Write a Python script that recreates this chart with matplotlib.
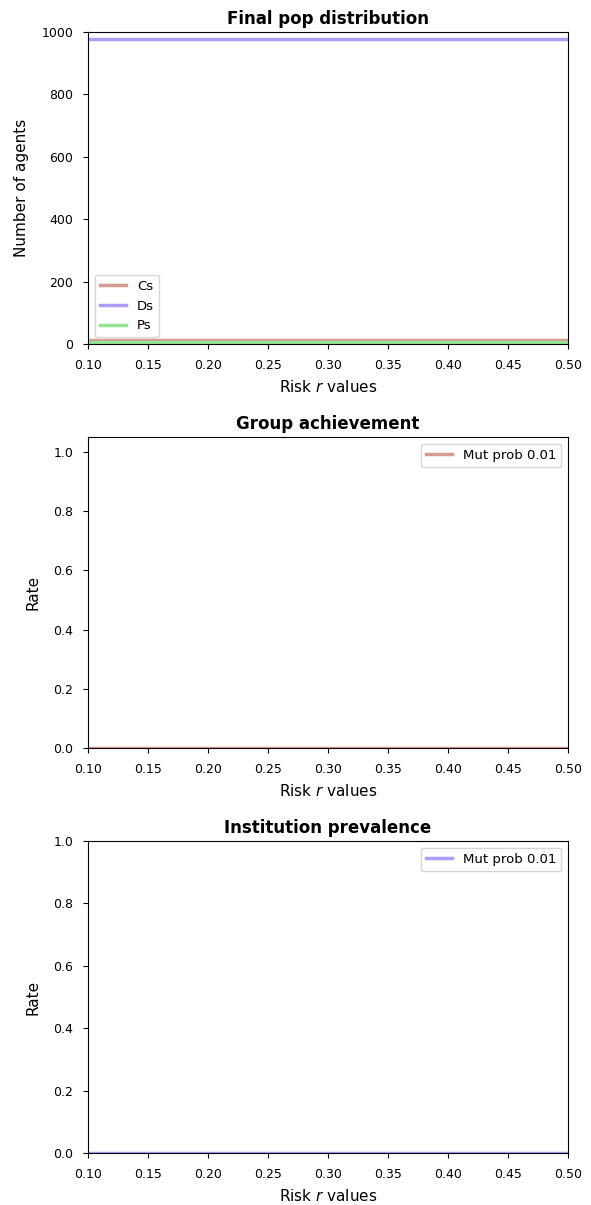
import matplotlib
matplotlib.use('Agg')
import matplotlib.pyplot as plt
import numpy as np

risk_values = [0.1, 0.2, 0.3, 0.4, 0.5]
cs_final = [14, 14, 14, 14, 14]
ds_final = [978, 978, 978, 978, 978]
ps_final = [8, 8, 8, 8, 8]
group_achievement = [0.0, 0.0, 0.0, 0.0, 0.0]
institution_prevalence = [0.0, 0.0, 0.0, 0.0, 0.0]

c_col = '#d6998f'
d_col = '#b09cfb'
p_col = '#96e396'

plt.rc('xtick', labelsize=9)
plt.rc('ytick', labelsize=9)
plt.rc('xtick.major', pad=7)
plt.rc('ytick.major', pad=7)
plt.rc('axes', labelsize=11)

fig = plt.figure(figsize=(5.91, 12.05), dpi=100)
W, H = 591., 1205.

def make_ax(top, bottom):
    return fig.add_axes([88 / W, 1 - bottom / H, (568 - 88) / W, (bottom - top) / H])

xt = np.arange(0.10, 0.501, 0.05)

ax1 = make_ax(32, 344)
ax1.plot(risk_values, cs_final, color=c_col, lw=2.5, label='Cs')
ax1.plot(risk_values, ds_final, color=d_col, lw=2.5, label='Ds')
ax1.plot(risk_values, ps_final, color=p_col, lw=2.5, label='Ps')
ax1.set_xlim(0.1, 0.5)
ax1.set_ylim(0, 1000)
ax1.set_xticks(xt)
ax1.set_title('Final pop distribution', fontweight='bold', fontsize=12)
ax1.set_ylabel('Number of agents', labelpad=9)
ax1.set_xlabel('Risk $r$ values', labelpad=5)
ax1.legend(loc='lower left', fontsize=9.5)

ax2 = make_ax(437, 748)
ax2.plot(risk_values, group_achievement, color=c_col, lw=2.5, label='Mut prob 0.01')
ax2.set_xlim(0.1, 0.5)
ax2.set_ylim(0, 1.05)
ax2.set_xticks(xt)
ax2.set_title('Group achievement', fontweight='bold', fontsize=12)
ax2.set_ylabel('Rate', labelpad=9)
ax2.set_xlabel('Risk $r$ values', labelpad=5)
ax2.legend(loc='upper right', fontsize=9.5)

ax3 = make_ax(841, 1153)
ax3.plot(risk_values, institution_prevalence, color=d_col, lw=2.5, label='Mut prob 0.01')
ax3.set_xlim(0.1, 0.5)
ax3.set_ylim(0, 1.0)
ax3.set_xticks(xt)
ax3.set_title('Institution prevalence', fontweight='bold', fontsize=12)
ax3.set_ylabel('Rate', labelpad=9)
ax3.set_xlabel('Risk $r$ values', labelpad=5)
ax3.legend(loc='upper right', fontsize=9.5)

plt.savefig('out.png', dpi=100)
